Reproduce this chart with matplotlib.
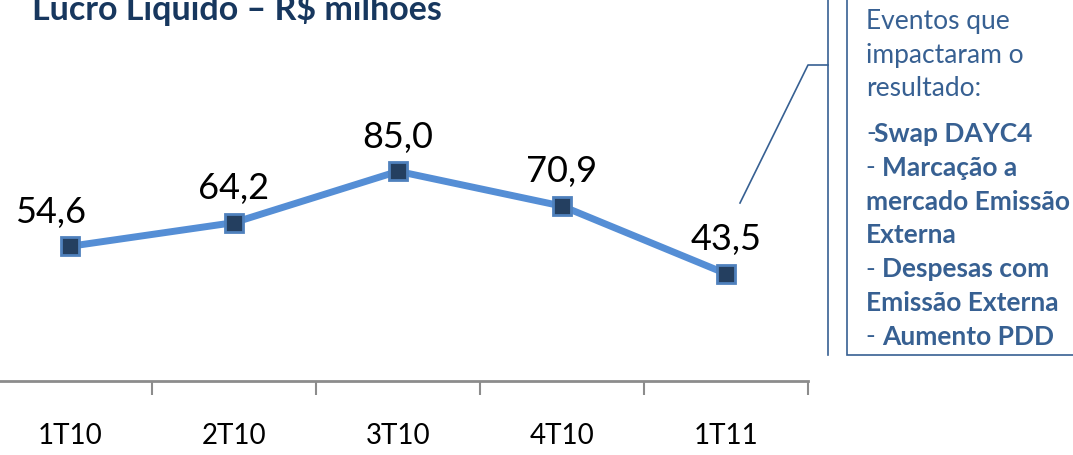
import matplotlib
matplotlib.use("Agg")
import matplotlib.pyplot as plt
from matplotlib.patches import Rectangle

plt.rcParams["font.family"] = ["Lato", "DejaVu Sans"]

quarters = ["1T10", "2T10", "3T10", "4T10", "1T11"]
lucro = [54.6, 64.2, 85.0, 70.9, 43.5]
labels = ["54,6", "64,2", "85,0", "70,9", "43,5"]

title = "Lucro Líquido – R$ milhões"
intro_lines = ["Eventos que", "impactaram o", "resultado:"]
event_lines = [
    ("-", "Swap DAYC4"),
    ("- ", "Marcação a"),
    ("", "mercado Emissão"),
    ("", "Externa"),
    ("- ", "Despesas com"),
    ("", "Emissão Externa"),
    ("- ", "Aumento PDD"),
]

W, H = 1073, 455
fig = plt.figure(figsize=(W / 100, H / 100), dpi=100)

# chart area (left edge is cropped in the reference)
ax = fig.add_axes([-12 / W, (H - 381) / H, 820 / W, 246.7 / H])
x = list(range(len(quarters)))
ax.plot(x, lucro, color="#558ED5", lw=5, marker="s", markersize=13,
        markerfacecolor="#243F60", markeredgecolor="#4F81BD", markeredgewidth=2,
        solid_capstyle="round", zorder=3)
for i, (v, lab) in enumerate(zip(lucro, labels)):
    dx = -14 if i == 0 else 0
    ax.annotate(lab, (i, v), xytext=(dx, 17), textcoords="offset points",
                ha="center", va="baseline", fontsize=26, color="black")

ax.set_xlim(-0.5, len(quarters) - 0.5)
ax.set_ylim(0, 100)
ax.set_xticks([i + 0.5 for i in x])
ax.set_xticklabels([])
ax.set_xticks(x, minor=True)
ax.set_xticklabels(quarters, minor=True, fontsize=20)
ax.tick_params(axis="x", which="major", direction="out", length=10, width=1.5,
               color="#8C8C8C")
ax.tick_params(axis="x", which="minor", length=0, pad=30)
ax.set_yticks([])
for s in ["top", "right", "left"]:
    ax.spines[s].set_visible(False)
ax.spines["bottom"].set_color("#8C8C8C")
ax.spines["bottom"].set_linewidth(2)
ax.patch.set_alpha(0)

# overlay in pixel coordinates for title and callout
ov = fig.add_axes([0, 0, 1, 1], zorder=5)
ov.set_xlim(0, W)
ov.set_ylim(H, 0)
ov.axis("off")
ov.patch.set_alpha(0)

ov.text(32, 20, title, fontsize=24.5, fontweight="bold", color="#17375E",
        va="baseline", ha="left")

blue = "#376092"
ov.add_patch(Rectangle((847, -5), 240, 360, fill=False, edgecolor=blue, lw=1.2))
ov.plot([828, 828], [-5, 355], color=blue, lw=1.2)
ov.plot([740, 808, 828], [203, 65, 65], color=blue, lw=1.2)

y0 = 22
step = 33.5
for k, line in enumerate(intro_lines):
    ov.text(866, y0 + k * step, line, fontsize=19, color=blue, va="center", ha="left")

y1 = 134
for k, (dash, bold) in enumerate(event_lines):
    yy = y1 + k * 33.8
    if dash:
        ov.text(866, yy, dash, fontsize=19, color=blue, va="center", ha="left")
        xb = 874 if dash == "-" else 882
    else:
        xb = 866
    ov.text(xb, yy, bold, fontsize=19, fontweight="bold", color=blue,
            va="center", ha="left")

fig.savefig("out.png", dpi=100)
